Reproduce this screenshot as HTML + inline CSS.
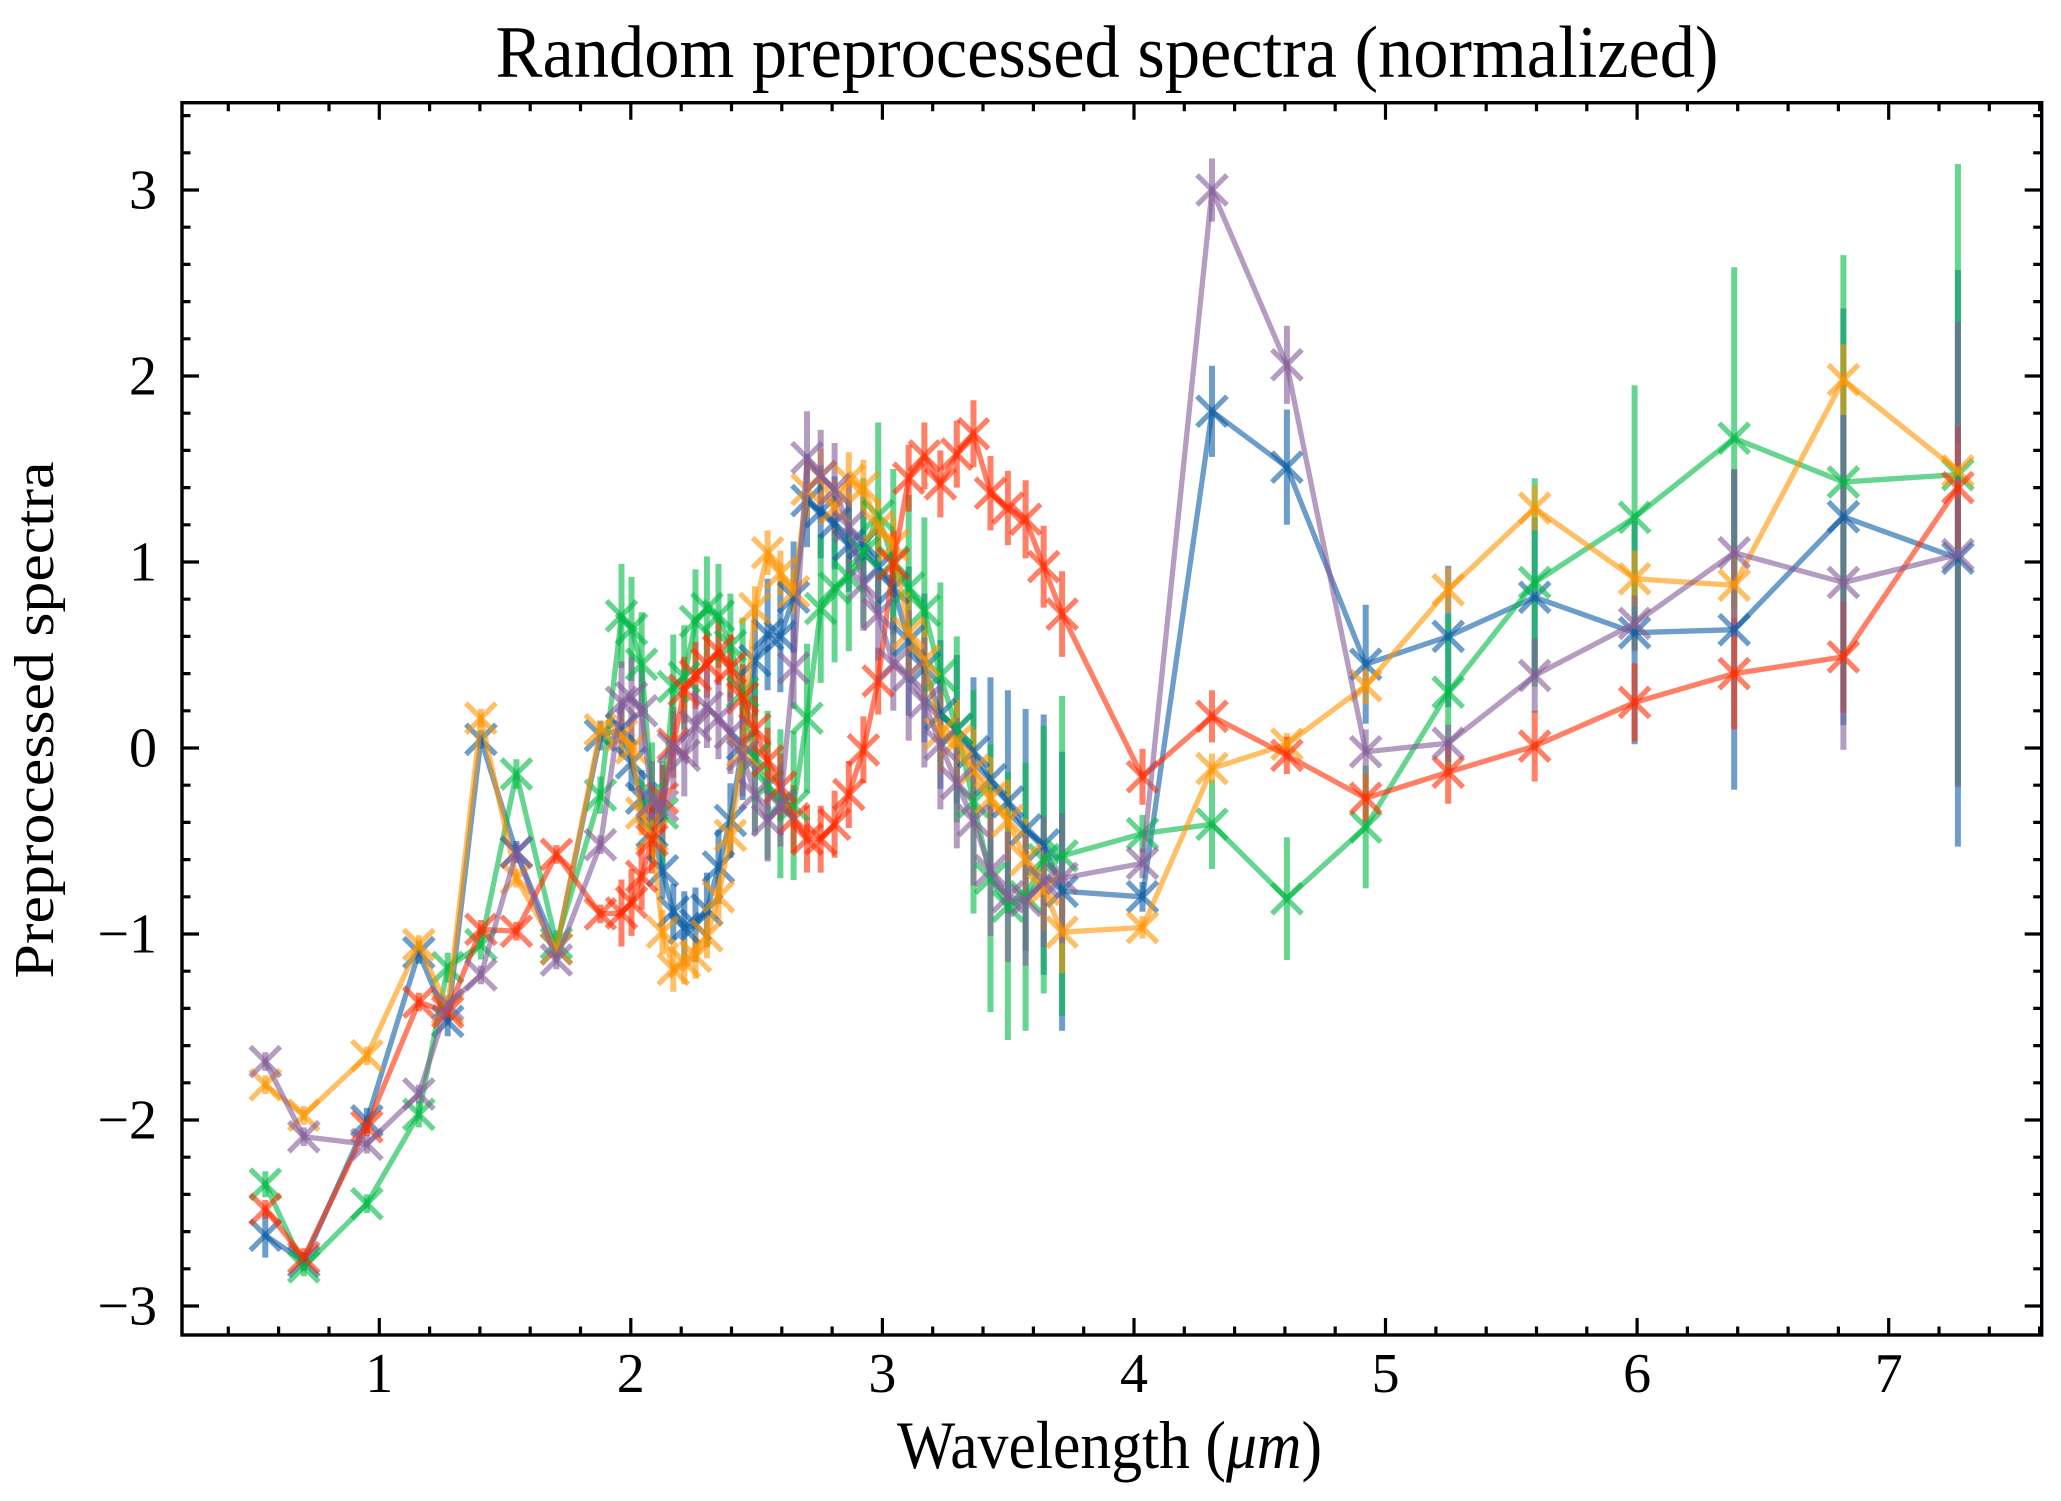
<!DOCTYPE html>
<html><head><meta charset="utf-8">
<style>
html,body{margin:0;padding:0;background:#fff;}
svg{display:block;}
text{font-family:"Liberation Serif","DejaVu Serif",serif;fill:#000;}
</style></head>
<body>
<svg id="s" width="2061" height="1501" viewBox="0 0 2061 1501" xmlns="http://www.w3.org/2000/svg">
<defs><clipPath id="ax"><rect x="182" y="102.7" width="1859.7" height="1232.3"/></clipPath></defs>
<rect width="2061" height="1501" fill="#fff"/>
<g id="data" clip-path="url(#ax)"></g>
<g id="ticks" stroke="#000" stroke-width="3.2" fill="none"></g>
<rect x="182" y="102.7" width="1859.7" height="1232.3" fill="none" stroke="#000" stroke-width="3.4"/>
<text x="1107" y="77" font-size="74" text-anchor="middle" textLength="1223" lengthAdjust="spacingAndGlyphs">Random preprocessed spectra (normalized)</text>
<text x="897" y="1468" font-size="68" textLength="425" lengthAdjust="spacingAndGlyphs">Wavelength (<tspan font-style="italic">μm</tspan>)</text>
<text transform="translate(53,720) rotate(-90)" x="0" y="0" font-size="56" text-anchor="middle" textLength="517" lengthAdjust="spacingAndGlyphs">Preprocessed spectra</text>
<g font-size="56" text-anchor="middle">
<text x="379.3" y="1392">1</text>
<text x="630.8" y="1392">2</text>
<text x="882.4" y="1392">3</text>
<text x="1134" y="1392">4</text>
<text x="1385.6" y="1392">5</text>
<text x="1637.1" y="1392">6</text>
<text x="1888.7" y="1392">7</text>
</g>
<g font-size="56" text-anchor="end">
<text x="157" y="208.5">3</text>
<text x="157" y="394.5">2</text>
<text x="157" y="580.5">1</text>
<text x="157" y="766.5">0</text>
<text x="157" y="952.5">−1</text>
<text x="157" y="1138.5">−2</text>
<text x="157" y="1324.5">−3</text>
</g>
</svg>
<script>
(function(){
var NS="http://www.w3.org/2000/svg";
function X(l){return 127.7+251.57*l;}
function Y(v){return 748-186*v;}
var L=[0.547,0.700,0.951,1.157,1.272,1.404,1.545,1.704,1.879];
for(var k=0;k<33;k++){L.push(1.963*Math.exp(0.019928*k));}
L=L.concat([4.034,4.310,4.608,4.921,5.249,5.593,5.990,6.386,6.820,7.275]);

function fill(n,v){var a=[];for(var i=0;i<n;i++)a.push(v);return a;}

var S=[
 {c:"#0C5DA5",
  y:[-2.62,-2.76,-2.005,-1.10,-1.47,0.046,-0.56,-1.08,0.067,
     0.10,-0.08,-0.27,-0.45,-0.66,-0.88,-0.97,-0.95,-0.87,-0.64,
     -0.39,0.02,0.47,0.61,0.60,0.81,1.33,1.27,1.21,1.09,
     1.10,0.97,0.86,0.575,0.43,0.18,0.10,-0.02,-0.17,-0.29,
     -0.44,-0.52,-0.77,
     -0.80,1.81,1.51,0.45,0.60,0.81,0.62,0.636,1.243,1.02],
  e:[0.12,0.05,0.07,0.06,0.08,0.05,0.06,0.05,0.08].concat(fill(6,0.15),fill(5,0.2),fill(5,0.3),fill(7,0.25),fill(5,0.4),[0.55,0.6,0.65,0.7,0.75],
     [0.08,0.245,0.31,0.32,0.38,0.43,0.6,0.86,1.12,1.55])},
 {c:"#00B945",
  y:[-2.345,-2.79,-2.45,-1.97,-1.18,-1.057,-0.14,-1.05,-0.253,
     0.71,0.64,0.45,-0.25,-0.35,0.33,0.38,0.68,0.75,0.71,
     0.55,0.30,-0.05,-0.20,-0.30,-0.31,0.16,0.75,0.86,0.92,
     1.05,1.25,1.0,0.86,0.74,0.39,0.10,-0.29,-0.70,-0.85,
     -0.80,-0.60,-0.58,
     -0.46,-0.41,-0.81,-0.425,0.30,0.89,1.24,1.665,1.43,1.47],
  e:[0.07,0.05,0.05,0.07,0.08,0.08,0.08,0.07,0.1].concat(fill(11,0.28),fill(10,0.4),fill(6,0.5),[0.6,0.72,0.72,0.72,0.72,0.86],
     [0.1,0.24,0.33,0.33,0.42,0.56,0.71,0.92,1.22,1.67])},
 {c:"#FF9500",
  y:[-1.81,-1.975,-1.655,-1.057,-1.40,0.16,-0.70,-1.08,0.098,
     0.07,0.0,-0.35,-0.47,-0.99,-1.19,-1.15,-1.12,-1.01,-0.80,
     -0.47,-0.02,0.75,1.05,0.94,0.84,1.39,1.46,1.29,1.44,
     1.40,1.19,1.09,0.62,0.47,0.08,0.04,-0.12,-0.27,-0.39,
     -0.60,-0.76,-0.99,
     -0.965,-0.11,0.02,0.335,0.85,1.29,0.91,0.875,1.98,1.49],
  e:fill(9,0.05).concat(fill(16,0.12),fill(7,0.15),fill(10,0.22),
     [0.06,0.08,0.06,0.1,0.12,0.12,0.15,0.2,0.19,0.15])},
 {c:"#FF2C00",
  y:[-2.48,-2.74,-2.036,-1.366,-1.42,-0.975,-0.985,-0.572,-0.892,
     -0.887,-0.83,-0.69,-0.495,-0.27,0.02,0.31,0.39,0.45,0.52,
     0.43,0.27,0.10,-0.07,-0.21,-0.38,-0.49,-0.49,-0.41,-0.25,
     -0.01,0.36,0.99,1.45,1.57,1.42,1.58,1.69,1.37,1.29,
     1.23,0.975,0.72,
     -0.155,0.17,-0.04,-0.27,-0.13,0.01,0.245,0.40,0.49,1.40],
  e:fill(9,0.05).concat(fill(28,0.18),[0.2,0.2,0.21,0.22,0.23],
     [0.15,0.14,0.1,0.13,0.17,0.19,0.21,0.3,0.3,0.33])},
 {c:"#845B97",
  y:[-1.686,-2.09,-2.13,-1.86,-1.38,-1.22,-0.56,-1.14,-0.52,
     0.245,0.27,0.2,-0.29,-0.31,0.0,-0.04,0.12,0.22,0.16,
     0.08,-0.04,-0.25,-0.39,-0.31,0.43,1.56,1.46,1.39,1.19,
     0.88,0.72,0.45,0.39,0.245,0.02,-0.19,-0.39,-0.66,-0.80,
     -0.82,-0.72,-0.70,
     -0.62,3.0,2.06,-0.02,0.026,0.39,0.67,1.05,0.89,1.04],
  e:fill(9,0.05).concat(fill(16,0.22),fill(7,0.25),fill(10,0.35),
     [0.08,0.17,0.21,0.12,0.1,0.2,0.15,0.45,0.9,1.25])}
];

var g=document.getElementById("data");
var A=0.6, LW=5.3, EW=6, MW=5.3, H=15;
function el(name,attrs){var e=document.createElementNS(NS,name);for(var a in attrs)e.setAttribute(a,attrs[a]);return e;}

// error bars first
S.forEach(function(s){
  var d="";
  for(var i=0;i<L.length;i++){
    var x=X(L[i]).toFixed(1);
    d+="M"+x+" "+Y(s.y[i]-s.e[i]).toFixed(1)+"V"+Y(s.y[i]+s.e[i]).toFixed(1);
  }
  g.appendChild(el("path",{d:d,stroke:s.c,"stroke-width":EW,"stroke-opacity":A,fill:"none","stroke-linecap":"butt"}));
});
// lines + markers
S.forEach(function(s){
  var d="";
  for(var i=0;i<L.length;i++){
    d+=(i?"L":"M")+X(L[i]).toFixed(1)+" "+Y(s.y[i]).toFixed(1);
  }
  g.appendChild(el("path",{d:d,stroke:s.c,"stroke-width":LW,"stroke-opacity":A,fill:"none","stroke-linejoin":"round","stroke-linecap":"square"}));
  for(var i=0;i<L.length;i++){
    var x=X(L[i]),y=Y(s.y[i]);
    var md="M"+(x-H).toFixed(1)+" "+(y-H).toFixed(1)+"L"+(x+H).toFixed(1)+" "+(y+H).toFixed(1)+
           "M"+(x-H).toFixed(1)+" "+(y+H).toFixed(1)+"L"+(x+H).toFixed(1)+" "+(y-H).toFixed(1);
    g.appendChild(el("path",{d:md,stroke:s.c,"stroke-width":MW,"stroke-opacity":A,fill:"none","stroke-linecap":"butt"}));
  }
});

// ticks
var t=document.getElementById("ticks");
var td="";
var L0=182,R0=2041.7,T0=102.7,B0=1335;
for(var i=-16;i<=17;i++){
  var v=i*0.2; var y=Y(v);
  if(y<T0+1||y>B0-1)continue;
  var major=Math.abs(v-Math.round(v))<1e-6;
  var len=major?17:8.5;
  td+="M"+L0+" "+y.toFixed(1)+"h"+len+"M"+R0+" "+y.toFixed(1)+"h"+(-len);
}
for(var i=1;i<=38;i++){
  var l=i*0.2; var x=X(l);
  if(x<L0+1||x>R0-1)continue;
  var major=Math.abs(l-Math.round(l))<1e-6;
  var len=major?17:8.5;
  td+="M"+x.toFixed(1)+" "+B0+"v"+(-len)+"M"+x.toFixed(1)+" "+T0+"v"+len;
}
t.appendChild(el("path",{d:td}));
})();
</script>
</body></html>
